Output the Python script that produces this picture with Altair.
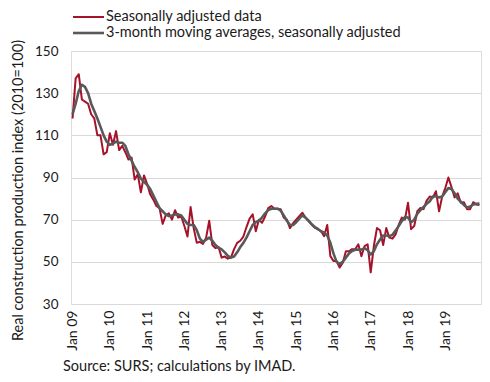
import altair as alt
import pandas as pd

# Monthly index values, Jan 2009 - Dec 2019
MONTHS = [f"{2009 + k // 12}-{k % 12 + 1:02d}" for k in range(132)]

SA = [
    118, 137, 139, 127, 126, 125, 120, 118, 110, 110,
    101, 102, 111, 105.5, 112, 103, 105, 102, 98.5, 99.5,
    89, 91.5, 83, 91, 87, 82, 79.5, 76.5, 75.5, 68,
    72, 73, 70, 74.5, 71, 71.5, 67, 62, 76, 66,
    59, 59.5, 58.5, 61.5, 69.5, 58, 56.5, 57, 52, 52.5,
    51.5, 52, 56, 59, 60, 62, 66.5, 70.5, 72.5, 64.5,
    70, 68.5, 71.5, 75.5, 76.5, 75.2, 75.2, 75, 71, 70,
    66, 68.3, 70, 71.7, 73.3, 71, 69.3, 67.7, 66.2, 65.4,
    64.5, 62.2, 67.5, 52.7, 50.4, 50.4, 47.3, 49.6, 55, 55,
    56, 56, 58.3, 52.7, 57.5, 58.3, 45, 57.5, 66, 65,
    58, 66, 61.5, 61, 63, 67.5, 71, 70, 78, 65.5,
    67, 74, 75.5, 75, 79, 81, 80.5, 83.5, 74, 81,
    85, 90, 85.5, 80.5, 82.5, 78, 78.3, 75, 75, 78.3,
    77.2, 77,
]

MA = [
    120, 125, 131, 134, 133, 130, 125, 121.5, 118, 114,
    110, 107, 105.5, 106, 107, 106.5, 106.5, 105, 101, 98,
    95, 92.5, 89.5, 88, 86.5, 84.5, 81.5, 78.5, 75.5, 74,
    72.5, 71.7, 72, 72.5, 72.5, 72, 70, 68, 67.5, 67.5,
    65, 61, 59.5, 60.5, 61.5, 60, 58, 56.7, 55.9, 54.5,
    52.8, 52, 52.5, 54.5, 57, 59, 61.5, 64.5, 67.5, 68.8,
    69.5, 71, 73, 74.5, 75.2, 75.2, 75.2, 74.3, 72, 69.5,
    67.5, 67.5, 68.8, 70.5, 72, 71, 69.5, 67.8, 66.5, 65.6,
    64.5, 63.8, 62.5, 59, 54, 50, 49, 50, 52, 54,
    55.1, 55.7, 55.8, 55.8, 56.5, 55.5, 53.5, 55, 58.3, 60.6,
    62.5, 62.5, 62.2, 62.8, 64.8, 67, 69.3, 71.2, 71, 68.8,
    70, 72.8, 74.5, 76, 77.5, 78.7, 81, 81.1, 80.5, 81,
    83, 85, 84.5, 82.5, 80, 78.5, 77, 75.8, 76.2, 77.2,
    77.5, 77.6,
]

SERIES = ["Seasonally adjusted data", "3-month moving averages, seasonally adjusted"]
COLORS = ["#a5122a", "#595959"]
Y_TICKS = [30, 50, 70, 90, 110, 130, 150]
X_TICK_MONTHS = [m for m in MONTHS if m.endswith("-01")]
X_TICK_LABELS = ["Jan 09", "Jan 10", "Jan 11", "Jan 12", "Jan 13", "Jan 14",
                 "Jan 15", "Jan 16", "Jan 17", "Jan 18", "Jan 19"]
Y_TITLE = "Real construction production index (2010=100)"
SOURCE = "Source: SURS; calculations by IMAD."

FONT = "Lato"
TXT = "#1a1a1a"

df = pd.DataFrame({"month": MONTHS, "sa": SA, "ma": MA})
one = pd.DataFrame({"k": [0]})

months_js = "[" + ",".join(f"'{m}'" for m in X_TICK_MONTHS) + "]"
labels_js = "[" + ",".join(f"'{t}'" for t in X_TICK_LABELS) + "]"

x_axis = alt.Axis(
    values=X_TICK_MONTHS,
    labelExpr=f"{labels_js}[indexof({months_js}, datum.value)]",
    labelAngle=270,
    ticks=False,
    domain=False,
    grid=False,
    title=None,
    labelPadding=6,
    labelFontSize=14,
    labelColor=TXT,
    labelFont=FONT,
)
x_scale = alt.Scale(type="point", padding=0.5)

y_axis = alt.Axis(
    values=Y_TICKS,
    grid=True,
    gridColor="#d9d9d9",
    ticks=False,
    domain=False,
    labelPadding=13,
    labelFontSize=13.5,
    labelColor=TXT,
    labelFont=FONT,
    title=Y_TITLE,
    titleX=-53,
    titleY=139,
    titleAngle=270,
    titleAlign="center",
    titleBaseline="middle",
    titleFontWeight="normal",
    titleFontSize=14.5,
    titleColor=TXT,
    titleFont=FONT,
)
y_scale = alt.Scale(domain=[30, 150], nice=False, zero=False)

red = alt.Chart(df).mark_line(color=COLORS[0], strokeWidth=2, strokeJoin="round").encode(
    x=alt.X("month:O", scale=x_scale, axis=x_axis),
    y=alt.Y("sa:Q", scale=y_scale, axis=y_axis),
)

grey = alt.Chart(df).mark_line(color=COLORS[1], strokeWidth=2.6, strokeJoin="round").encode(
    x=alt.X("month:O", scale=x_scale, axis=x_axis),
    y=alt.Y("ma:Q", scale=y_scale, axis=y_axis),
)

ROW1, ROW2 = -34, -18
leg_red = alt.Chart(one).mark_rule(color=COLORS[0], strokeWidth=2).encode(
    x=alt.value(2), x2=alt.value(33), y=alt.value(ROW1)
)
leg_grey = alt.Chart(one).mark_rule(color=COLORS[1], strokeWidth=2.6).encode(
    x=alt.value(2), x2=alt.value(33), y=alt.value(ROW2)
)
leg_red_t = alt.Chart(one).mark_text(
    align="left", baseline="middle", fontSize=14.5, font=FONT, color=TXT
).encode(x=alt.value(35), y=alt.value(ROW1 - 0.5), text=alt.value(SERIES[0]))
leg_grey_t = alt.Chart(one).mark_text(
    align="left", baseline="middle", fontSize=14.5, font=FONT, color=TXT
).encode(x=alt.value(35), y=alt.value(ROW2 - 0.5), text=alt.value(SERIES[1]))

source = alt.Chart(one).mark_text(
    align="left", baseline="middle", fontSize=14.5, font=FONT, color=TXT
).encode(x=alt.value(-8), y=alt.value(315.5), text=alt.value(SOURCE))

chart = (
    alt.layer(red, grey, leg_red, leg_grey, leg_red_t, leg_grey_t, source)
    .properties(
        width=410,
        height=253,
        autosize="none",
        padding={"left": 63, "top": 43, "right": 1, "bottom": 74},
    )
    .configure_view(stroke="#bfbfbf", strokeWidth=1)
    .configure(font=FONT, background="white")
)

chart.save("out.html", embed_options={"renderer": "svg", "actions": False})
